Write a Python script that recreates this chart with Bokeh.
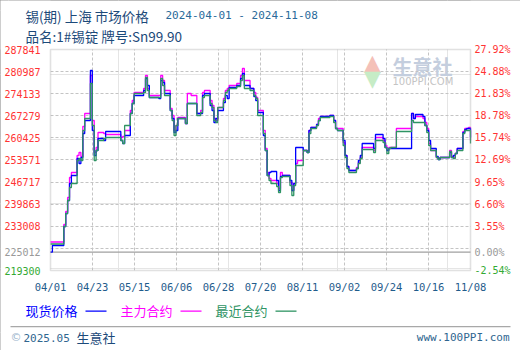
import pandas as pd
from bokeh.plotting import figure
from bokeh.models import Range1d, Label, BoxAnnotation, ColumnDataSource, Grid, FixedTicker, Span
from bokeh.embed import file_html
from bokeh.resources import INLINE

# ---------------- data ----------------
dates = ["2024-04-01","2024-04-02","2024-04-08","2024-04-09","2024-04-10","2024-04-11","2024-04-12","2024-04-15","2024-04-16","2024-04-17",
         "2024-04-18","2024-04-19","2024-04-22","2024-04-23","2024-04-24","2024-04-25","2024-04-26","2024-04-29","2024-04-30","2024-05-08",
         "2024-05-09","2024-05-10","2024-05-13","2024-05-14","2024-05-15","2024-05-20","2024-05-21","2024-05-22","2024-05-23","2024-05-28",
         "2024-05-29","2024-05-30","2024-05-31","2024-06-03","2024-06-04","2024-06-05","2024-06-06","2024-06-07","2024-06-11","2024-06-12",
         "2024-06-14","2024-06-17","2024-06-19","2024-06-20","2024-06-21","2024-06-24","2024-06-25","2024-06-26","2024-06-27","2024-06-28",
         "2024-07-01","2024-07-02","2024-07-03","2024-07-04","2024-07-08","2024-07-10","2024-07-11","2024-07-12","2024-07-15","2024-07-17",
         "2024-07-18","2024-07-19","2024-07-22","2024-07-23","2024-07-24","2024-07-25","2024-07-26","2024-07-29","2024-07-30","2024-07-31",
         "2024-08-01","2024-08-05","2024-08-06","2024-08-07","2024-08-08","2024-08-09","2024-08-12","2024-08-14","2024-08-15","2024-08-16",
         "2024-08-19","2024-08-20","2024-08-21","2024-08-26","2024-08-28","2024-08-29","2024-08-30","2024-09-02","2024-09-03","2024-09-04",
         "2024-09-05","2024-09-09","2024-09-10","2024-09-11","2024-09-12","2024-09-18","2024-09-19","2024-09-23","2024-09-24","2024-09-25",
         "2024-09-26","2024-09-27","2024-09-30","2024-10-08","2024-10-09","2024-10-10","2024-10-14","2024-10-15","2024-10-16","2024-10-17",
         "2024-10-18","2024-10-21","2024-10-22","2024-10-23","2024-10-28","2024-10-29","2024-10-30","2024-10-31","2024-11-01","2024-11-04",
         "2024-11-05","2024-11-06","2024-11-07","2024-11-08"]

# 最近合约 (green)
near_contract = [227520, 227520, 232950, 236980, 241010, 245040, 246280, 253420, 254040, 253420,
                 262720, 266440, 277300, 264270, 253420, 256520, 259620, 260240, 260550, 259620,
                 258690, 264270, 267990, 271090, 274200, 274510, 279160, 275130, 272950, 272950,
                 278850, 276680, 273580, 268920, 265820, 261170, 264270, 266440, 264890, 271090,
                 271090, 267370, 268300, 272950, 273580, 271090, 269850, 265820, 265200, 269850,
                 272020, 274510, 275130, 275750, 276370, 278230, 279780, 275750, 275130, 273580,
                 272640, 267370, 261790, 256520, 248760, 247210, 246280, 245350, 243490, 248140,
                 248450, 245660, 242560, 245660, 251870, 251870, 256520, 255900, 261790, 263340,
                 264270, 265820, 266750, 267060, 265200, 263340, 262720, 258070, 254350, 250930,
                 249690, 250930, 252490, 254040, 256830, 255900, 259620, 259000, 257450, 255590,
                 257140, 257450, 262410, 265820, 265200, 265200, 265200, 264270, 262100, 258070,
                 256520, 254350, 253730, 254350, 256210, 254350, 254040, 255590, 256520, 261790,
                 262720, 262720, 262720, 258690]

# 主力合约 (magenta)
main_contract = [228140, 228140, 233570, 237600, 241940, 248140, 249690, 254970, 255900, 254660,
                 263960, 267990, 279780, 265820, 255900, 257450, 262100, 261790, 261480, 260550,
                 260860, 262720, 268920, 272020, 274510, 275750, 279780, 275750, 273580, 273580,
                 279780, 278230, 275130, 269540, 267370, 262720, 264270, 266750, 264890, 274200,
                 273580, 267990, 268920, 274510, 275130, 272020, 270470, 266440, 265820, 269850,
                 272640, 275130, 275750, 276680, 277300, 279780, 281950, 278230, 275750, 274510,
                 272950, 268920, 262720, 257140, 249690, 247830, 247210, 246280, 244730, 249690,
                 248760, 246590, 244110, 246280, 252490, 253420, 256520, 256520, 262720, 263650,
                 264580, 266440, 267060, 267370, 265820, 263340, 263340, 259000, 254970, 251560,
                 250310, 251250, 252800, 254350, 257450, 256520, 260550, 259620, 258070, 256520,
                 257450, 257450, 263340, 267990, 266440, 267060, 266440, 265200, 263340, 258690,
                 256520, 254350, 254040, 254350, 256520, 254660, 254350, 255590, 257140, 262410,
                 263340, 263340, 263650, 259620]

# 现货价格 (blue)
spot_price = [225012, 227050, 232950, 236980, 241010, 246280, 248760, 254040, 252490, 254350,
              261790, 265820, 281330, 262720, 254970, 256520, 260240, 259620, 262410, 259620,
              258690, 261170, 267990, 271090, 273580, 275130, 278850, 276680, 272950, 272640,
              278230, 277610, 274200, 268920, 266440, 262100, 262720, 266440, 264890, 271090,
              271090, 267990, 267990, 273580, 274200, 270470, 268920, 265200, 266440, 268920,
              271400, 273580, 272640, 276060, 276680, 278850, 280400, 276680, 275750, 273270,
              272020, 268300, 261170, 256520, 248760, 249690, 250000, 247210, 244110, 248450,
              248760, 247210, 244110, 246280, 257450, 257450, 256520, 255900, 262720, 263650,
              264580, 265820, 267060, 267370, 265820, 263340, 262720, 259620, 254970, 251560,
              250310, 250930, 253420, 254970, 258690, 257140, 261480, 260240, 257450, 256520,
              257140, 257140, 257140, 267990, 266440, 267680, 267060, 264270, 262720, 259620,
              257140, 254660, 253730, 254350, 255900, 254350, 254970, 255590, 257140, 262100,
              263030, 263340, 263340, 260550]

series_names = ["现货价格", "主力合约", "最近合约"]
series_colors = ["#0000ff", "#ff00ff", "#2e9463"]

y_min, y_max = 219300, 287841
base_price = 225012
left_tick_values = [219300, 225012, 233008, 239863, 246717, 253571, 260425, 267279, 274133, 280987, 287841]
right_tick_labels = ["-2.54%", "0.00%", "3.55%", "6.60%", "9.65%", "12.69%", "15.74%", "18.78%", "21.83%", "24.88%", "27.92%"]
grid_values = [226154, 233008, 239863, 246717, 253571, 260425, 267279, 274133, 280987]
x_tick_labels = ["04/01", "04/23", "05/15", "06/06", "06/28", "07/20", "08/11", "09/02", "09/24", "10/16", "11/08"]

assert len(dates) == len(near_contract) == len(main_contract) == len(spot_price)

# ---------------- layout constants (pixels) ----------------
W, H = 520, 350
PL, PR, PT, PB = 50, 470, 49, 270      # plot-area edges on the canvas

t0 = float(pd.Timestamp(dates[0]).value // 10**6)
t1 = float(pd.Timestamp(dates[-1]).value // 10**6)
step = (t1 - t0) / 10
x_ticks = [t0 + k * step for k in range(10)] + [t1]

mpp = (t1 - t0) / (PR - PL)
vpp = (y_max - y_min) / (PB - PT)
x_range = Range1d(t0 - PL * mpp, t1 + (W - PR) * mpp)
y_range = Range1d(y_min - (H - PB) * vpp, y_max + PT * vpp)

src = ColumnDataSource(dict(date=pd.to_datetime(dates), spot=spot_price, main=main_contract, near=near_contract))

p = figure(width=W, height=H, output_backend="svg", toolbar_location=None,
           x_range=x_range, y_range=y_range, x_axis_location=None, y_axis_location=None,
           min_border=0, min_border_left=0, min_border_right=0, min_border_top=0, min_border_bottom=0)
p.background_fill_color = "white"
p.border_fill_color = "white"
p.outline_line_color = "#a8a8a8"
p.outline_line_width = 1.5

mono = "DejaVu Sans Mono"
cjk = "Noto Sans CJK SC"
grid_col = "#c4c4c4"

# grid lines (library Grid models with fixed tickers)
p.add_layout(Grid(dimension=0, ticker=FixedTicker(ticks=x_ticks[1:-1]), grid_line_color=grid_col,
                  grid_line_dash="3 2", grid_line_width=1))
p.add_layout(Grid(dimension=1, ticker=FixedTicker(ticks=grid_values), grid_line_color=grid_col,
                  grid_line_dash="3 2", grid_line_width=1))
# base-price line (0.00%)
p.add_layout(Span(location=base_price, dimension="width", line_color="#a0a0a0", line_width=1.2, level="underlay"))


def mask(l, t, r, b):
    # white cover (canvas pixel box) that hides grid lines outside the plot area
    p.add_layout(BoxAnnotation(left=l, right=r, top=H - t, bottom=H - b,
                               left_units="screen", right_units="screen", top_units="screen", bottom_units="screen",
                               fill_color="white", fill_alpha=1, line_color=None, level="underlay"))


mask(0, 0, PL, H)
mask(PR, 0, W, H)
mask(0, 0, W, PT)
mask(0, PB, W, H)

# series (step lines)
p.step("date", "main", source=src, mode="after", line_color=series_colors[1], line_width=1.3)
p.step("date", "spot", source=src, mode="after", line_color=series_colors[0], line_width=1.3)
p.step("date", "near", source=src, mode="after", line_color=series_colors[2], line_width=1.3)

# plot-area border
p.add_layout(BoxAnnotation(left=t0, right=t1, bottom=y_min, top=y_max, fill_color=None, fill_alpha=0,
                           line_color="#9a9a9a", line_width=1.6, level="overlay"))

# tick labels
def tick_color(v):
    if v == y_min:
        return "#33aa33"
    if v == base_price:
        return "#999999"
    return "#ff3333"

for v, rl in zip(left_tick_values, right_tick_labels):
    c = tick_color(v)
    p.add_layout(Label(x=t0, y=v, x_offset=-10, text=str(v), text_color=c, text_font=mono,
                       text_font_size="10px", text_align="right", text_baseline="middle"))
    p.add_layout(Label(x=t1, y=v, x_offset=4, text=rl, text_color=c, text_font=mono,
                       text_font_size="10px", text_align="left", text_baseline="middle"))
for t, lab in zip(x_ticks, x_tick_labels):
    p.add_layout(Label(x=t, y=y_min, y_offset=-16, text=lab, text_color="#1f5c8c", text_font=mono,
                       text_font_size="10.5px", text_align="center", text_baseline="middle"))


def clabel(text, cx, cy, color, size, font, align="left", baseline="middle", style="normal"):
    p.add_layout(Label(x=cx, y=H - cy, x_units="screen", y_units="screen", text=text,
                       text_color=color, text_font_size=f"{size}px", text_font=font,
                       text_align=align, text_baseline=baseline, text_font_style=style))


def cbox(l, t, r, b, color):
    p.add_layout(BoxAnnotation(left=l, right=r, top=H - t, bottom=H - b,
                               left_units="screen", right_units="screen", top_units="screen", bottom_units="screen",
                               fill_color=color, fill_alpha=1, line_color=None, level="overlay"))


# title lines
clabel("锡(期) 上海 市场价格", 25, 15, "#1c4a7a", 13.5, cjk)
clabel("2024-04-01 - 2024-11-08", 165, 15, "#2a6a9a", 11, mono)
clabel("品名:1#锡锭 牌号:Sn99.90", 25, 35, "#1c4a7a", 13.5, cjk)

# watermark
clabel("▲", 372, 62, "#f4c0b8", 22, "DejaVu Sans", align="center")
clabel("▼", 372, 78, "#c6ecc6", 22, "DejaVu Sans", align="center")
clabel("生意社", 392, 66, "#c4cede", 20, cjk, style="bold")
clabel("100PPI.COM", 392, 81, "#c4c4c4", 10, "DejaVu Sans")

# legend
leg_text_x = [25, 120, 215]
leg_line_x = [85, 180, 275]
for name, col, tx, lx in zip(series_names, series_colors, leg_text_x, leg_line_x):
    clabel(name, tx, 310, col, 13, cjk)
    cbox(lx, 310, lx + 21, 311.3, col)

# separator and footer
cbox(10, 325.5, 510, 326.8, "#a8a8a8")
clabel("©", 10, 337, "#9ab4cc", 11, "DejaVu Sans")
clabel("2025.05", 23, 337, "#2f6690", 11, mono)
clabel("生意社", 76, 337, "#1c4a7a", 13, cjk)
clabel("www.100PPI.com", 509, 337, "#2f6690", 11, mono, align="right")

open("out.html", "w").write(file_html(p, INLINE))
